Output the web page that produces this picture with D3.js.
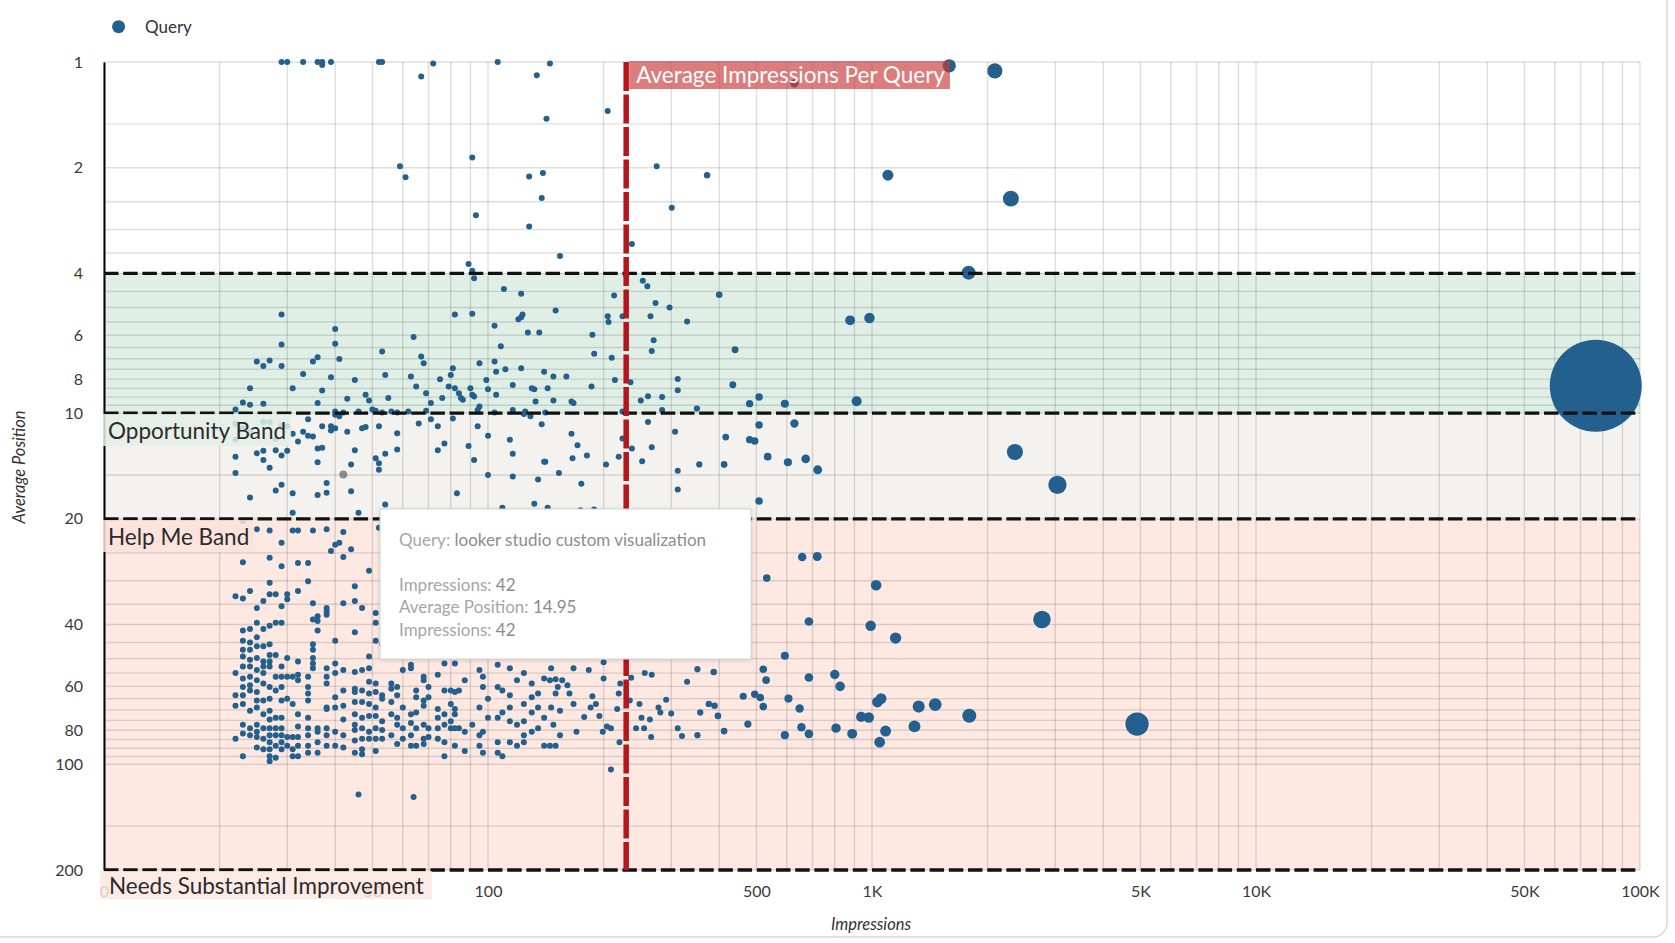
<!DOCTYPE html>
<html><head><meta charset="utf-8">
<script src="https://cdn.jsdelivr.net/npm/d3@7"></script>
<style>
html,body{margin:0;padding:0;background:#fff;}
svg{display:block;font-family:Lato,"Open Sans",sans-serif;}
</style></head><body>
<svg id="chart" width="1675" height="943"></svg>
<script>
// ---------- axis ticks ----------
const xTickValues = [10, 50, 100, 500, 1000, 5000, 10000, 50000, 100000];
const xTickLabels = ["0", "50", "100", "500", "1K", "5K", "10K", "50K", "100K"];
const yTickValues = [1, 2, 4, 6, 8, 10, 20, 40, 60, 80, 100, 200];
const bandLimits = [4, 10, 20, 200];
const bandNames = ["Opportunity Band", "Help Me Band", "Needs Substantial Improvement"];
const avgImpressionsPerQuery = 229;

// ---------- data: [impressions, average position] ----------
const topQueries = [
 [29,1],[30,1],[33,1],[36,1],[37,1],[37,1.02],[39,1],[52,1],[53,1],[72,1.01],[106,1],[145,1.01],
 [67,1.1],[134,1.09],[142,1.45],[205,1.38],[628,1.15],
 [91,1.87],[59,1.98],[61,2.13],[128,2.12],[139,2.07],[138,2.44],[93,2.73],[128,2.94],[154,3.57],[89,3.76],[91,3.93],
 [237,3.3],[275,1.98],[301,2.6],[372,2.1],
 [1589,1.025],[2089,1.06],[1100,2.1],[2300,2.45],[1785,3.98]
];
const opportunityQueries = [
 [92,4.13],[110,4.43],[122,4.57],[253,4.2],[260,4.35],[213,4.62],[400,4.6],[229,4.05],
 [29,5.24],[29,6.38],[29,7.34],[25,7.13],[26,7.34],[27,7.08],[24,8.49],[23,9.32],[24,9.46],[26,9.4],[31,8.49],[33,7.74],
 [35,7.13],[36,6.93],[36,9.36],[39,7.9],[40,5.76],[40,6.34],[41,7.01],[37,8.62],[43,9.1],[45,8.04],[48,8.87],[49,9.2],
 [54,7.79],[55,9.06],[53,6.67],[63,7.87],[64,6.07],[65,8.4],[67,6.9],[68,7.21],[69,8.77],[71,9.36],[75,8.01],[76,9.06],
 [79,8.4],[80,7.79],[81,7.45],[82,5.24],[82,8.49],[84,8.77],[85,9.06],[86,9.16],[90,8.49],[91,8.87],[92,8.97],[91,5.21],
 [95,7.21],[95,9.57],[99,8.04],[100,8.55],[104,5.64],[104,7.13],[105,7.62],[105,8.87],[108,6.45],[111,7.5],[116,8.31],
 [120,5.4],[122,5.33],[123,5.24],[122,7.45],[127,5.89],[130,8.49],[132,8.55],[133,9.26],[136,5.89],[140,7.62],[143,8.49],
 [148,7.87],[148,9.2],[150,5.1],[160,7.87],[165,9.26],[167,9.36],[187,5.98],[189,6.77],[186,8.4],
 [22,9.77],[40,9.9],[42,9.95],[46,9.9],[51,9.85],[53,9.95],[56,9.9],[58,9.95],[62,9.9],[69,9.85],[94,9.8],[104,9.95],
 [116,9.8],[125,9.9],[141,9.95],[50,9.77],
 [205,5.3],[206,5.5],[210,6.95],[214,8.05],[224,9.9],[235,8.16],[250,9.2],[224,5.3],[265,5.3],[270,6.2],[273,4.86],
 [267,6.65],[297,5.0],[330,5.48],[312,8.0],[312,8.6],[284,9.0],[261,8.95],[284,9.8],[350,9.7],[440,6.6],[434,8.3],
 [508,9.0],[593,9.4],[480,9.4],[877,5.44],[985,5.36],[912,9.25],[76700,8.36]
];
const helpMeQueries = [
 [22,10.7],[22,11.9],[23,11.05],[24,11.3],[26,10.6],[27,10.6],[28,11.85],[29,10.85],[30,10.9],[31,11.45],[22,13.3],
 [22,14.8],[24,17.4],[25,13.0],[26,12.8],[26,13.6],[27,14.3],[28,12.75],[28,16.6],[29,13.2],[29,16.0],[30,12.8],
 [31,16.9],[31,19.2],[32,12.05],[33,11.3],[34,10.4],[34,11.6],[35,11.65],[36,12.6],[36,13.8],[36,17.1],[37,12.55],
 [37,10.9],[38,15.8],[38,16.85],[39,10.9],[39,11.2],[40,11.05],[40,10.1],[41,10.2],[43,11.3],[44,14.0],[44,16.7],
 [45,12.75],[46,19.2],[47,11.05],[48,10.95],[51,13.45],[52,13.9],[52,14.5],[52,10.9],[54,13.05],[54,18.2],[58,11.4],
 [58,12.7],[66,10.7],[71,10.4],[74,10.9],[74,12.75],[77,12.2],[81,10.35],[83,16.9],[89,12.4],[92,13.6],[94,10.9],
 [100,11.6],[100,15.0],[114,11.9],[116,13.05],[116,15.15],[124,10.05],[129,10.2],[135,15.45],[138,10.75],[140,13.75],
 [141,13.75],[153,14.8],[165,11.45],[166,13.45],[171,12.35],[175,15.9],[181,13.2],[189,18.8],
 [109,18.6],[132,18.1],[143,18.6],[174,18.9],
 [203,14.0],[219,13.3],[224,11.8],[237,12.6],[252,13.7],[261,10.6],[267,12.5],[307,11.3],[312,14.6],[312,16.5],
 [355,14],[412,14],[416,11.7],[480,11.9],[495,12],[508,10.8],[535,13.3],[604,13.8],[628,10.7],[672,13.5],[722,14.5],
 [508,17.8],[2356,12.9],[3040,16]
];
const needsQueries = [
 [23,20.3],[25,21.4],[27,21.6],[29,23.4],[31,21.6],[32,21.6],[35,21.6],[38,21.4],[40,23.7],[41,23.4],[42,21.8],
 [39,24.7],[42,25.7],[44,24.4],[23,26.6],[27,25.8],[29,27.3],[32,26.7],[34,26.7],[49,28.1],[52,21.2],
 [658,25.7],[720,25.6],[532,29.5],
 [1025,30.9],[685,39.2],[992,40.3],[1152,43.7],[2771,38.7],[593,49.1],[521,53.6],[530,57.6],[685,56.6],[800,55.5],
 [826,60],[606,65],[648,69.4],[462,64],[495,63.2],[512,64.5],[521,68.5],[475,76.8],[593,82.6],[655,78.4],[685,81.9],
 [806,78.9],[888,81.9],[937,73.3],[981,73.6],[1033,66.5],[1056,65],[1085,80.4],[1047,86.5],[1290,78],[1323,68.5],
 [1461,67.6],[1792,72.7],[4900,76.8],
 [145,57.6],[150,57.3],[156,57.6],[152,60.2],[161,59.6],[150,62.9],[163,62.9],[154,70.4],[148,77.1],[154,82.6],
 [145,88.6],[150,88.6],[167,53.3],[167,67.3],[170,80.8],[183,53.9],[187,64],[191,67.3],[195,72.8],[178,73.3],
 [185,68.9],[200,57],[200,51.2],[199,80.8],[204,78],[209,78.9],[209,103.5],[217,69.6],[219,62.9],[221,58.9],
 [220,86.5],[234,65.8],[236,56.7],[243,78.9],[248,67.3],[251,73.7],[256,55],[255,78.9],[264,74.5],[266,83.6],
 [267,55.6],[278,68.9],[281,71.2],[291,65.5],[300,71.7],[312,78.9],[320,83],[330,58.2],[351,53.6],[351,82.6],
 [357,71.2],[376,67.3],[387,54.6],[389,68.1],[397,72.8],[412,80.4],
 [46,122],[64,124]
];
// low-impression queries: [impressions, [average positions]]
const needsColumns = [
 [22,[33.2,55.0,63.6,68.1,84.6]],
 [23,[33.7,41.6,44.5,47.2,49.3,52.7,57,60.2,63.6,67.3,77.1,81.7,94.8]],
 [24,[32.1,41.2,45,47.2,50.4,52.7,56.3,59.6,61.6,70.4,78.9,82.6]],
 [25,[35.9,39.5,43.5,46.1,49.8,53.9,57.6,62.2,65.8,68.9,77.1,80.8,83.6,89.6]],
 [26,[34.3,41.2,46.1,51,52.7,55,58.9,65.8,72,78.9,84.6,90.6]],
 [27,[30.4,32.8,40.3,45.5,48.8,51,52.7,60.2,65.1,70.4,74.5,78.9,82.6,86.5,90.6,94.8,98]],
 [28,[32.8,39.5,48.8,56.3,61.6,73.7,78.9,82.6,88.6,95.8]],
 [29,[35.5,39.5,52.7,56.3,60.2,65.8,73.7,78.9,82.6,86.5,90.6]],
 [30,[32.8,33.9,49.8,56.3,65.1,83.6,88.6]],
 [31,[56.3,67.3,83.6,90.6,94.8]],
 [32,[32.1,51,55.6,57.6,72,78,83.6,88.6,94.8]],
 [34,[30.1,56.3,60.2,62.9,65.8,73.7,78.9,82.6,88.6,92.7]],
 [35,[34.8,38.7,45.5,47.2,49.8,51.6,53.3]],
 [36,[37.9,39.1,41.6,78.9,80.8,86.5,92.7]],
 [38,[35.9,36.7,37.5,53.3,56.3,58.9,68.9,69.6,78.9,82.6,88.6]],
 [40,[44.5,51.6,55,64.4,68.9,80.8,88.6]],
 [42,[34.8,53.9,61.6,68.1,74.5,82.6,89.6]],
 [45,[31.1,34.3,42.1,54.6,60.9,62.2,66.5,72,77.1,79.9,85.5,92.7]],
 [47,[35.9,53.9,61.6,66.5,73.7,78.9,84.6,90.6,93.7]],
 [49,[49.3,53.3,58.2,62.9,67.3,72.8,80.8,84.6]],
 [51,[37.1,39.5,44.5,58.9,62.2,68.9,72.8,78.9,84.6,91.6]],
 [53,[45.5,63.6,65.1,75.4,79.9,84.6]],
 [56,[58.9,60.9,66.5,72,82.6]],
 [58,[60.2,63.6,73.7,77.1,87.5]],
 [60,[53.9,68.9,78.9,84.6]],
 [63,[52.1,53.3,72,76.3,82.6,88.6]],
 [65,[61.6,64.4,71.2,78.9,88.6]],
 [68,[56.3,57.6,65.8,68.1,77.1,84.6,87.5]],
 [70,[60.2,64.4,78.9,83.6]],
 [74,[55.6,69.6,73.7,78.9,84.6]],
 [77,[51.6,61.6,72,77.1,86.5,94.8]],
 [80,[61.6,67.3,75.4,78.9]],
 [82,[51.6,62.2,69.6,72,78.9,88.6]],
 [84,[61.6,78.9]],
 [87,[57.6,80.8,91.6]],
 [91,[77.1]],
 [95,[53.9,68.9,82.6,88.6]],
 [97,[56.3,60.2,80.8,92.7]],
 [100,[65.1,73.7]],
 [106,[52.1,60.2,73.7,86.5,92.7]],
 [109,[61.6,71.2,94.8]],
 [114,[53.3,63.6,68.9,75.4,86.5]],
 [119,[57.6,77.1,88.6]],
 [124,[55,67.3,75.4,82.6,86.5]],
 [130,[58.9,64.4,71.2,80.8]],
 [135,[62.9,68.9,78.9]],
 [140,[57,73.7,88.6]],
 [146,[53.3,68.9]]
];
const hoveredQuery = {query: "looker studio custom visualization", impressions: 42, position: 14.95};

// ---------- build ----------
const points = [...topQueries, ...opportunityQueries, ...helpMeQueries, ...needsQueries];
needsColumns.forEach(([imp, list]) => list.forEach(p => points.push([imp, p])));

const svg = d3.select("#chart");
const X0 = 104, X1 = 1640, Y0 = 62, Y1 = 870;
const x = d3.scaleLog().domain([10, 100000]).range([X0, X1]);
const y = d3.scaleLog().domain([1, 200]).range([Y0, Y1]);
const rScale = d3.scaleSqrt().domain([0, 76700]).range([0, 46]);
const radius = d => Math.max(3, rScale(d));
const pointColor = "#24608e";

// card border
svg.append("rect").attr("x", -20).attr("y", -20).attr("width", 1687).attr("height", 957)
  .attr("rx", 14).attr("fill", "none").attr("stroke", "#d8d8d8").attr("stroke-width", 1.5);

// bands
const bandColors = ["#e0efe5", "#f3f2ee", "#fde8e2"];
for (let i = 0; i < 3; i++) {
  svg.append("rect").attr("x", X0).attr("width", X1 - X0)
    .attr("y", y(bandLimits[i])).attr("height", y(bandLimits[i + 1]) - y(bandLimits[i]))
    .attr("fill", bandColors[i]);
}

// grid
const yGrid = [...d3.range(1, 10, 0.5), ...d3.range(10, 100, 5), ...d3.range(100, 201, 50)];
const grid = svg.append("g").attr("stroke", "#000").attr("stroke-opacity", 0.13).attr("stroke-width", 1.4);
grid.selectAll(".gx").data(x.ticks()).join("line")
  .attr("x1", d => x(d)).attr("x2", d => x(d)).attr("y1", Y0).attr("y2", Y1);
grid.selectAll(".gy").data(yGrid).join("line")
  .attr("x1", X0).attr("x2", X1).attr("y1", d => y(d)).attr("y2", d => y(d));

// axes
const yAxis = svg.append("g").attr("transform", `translate(${X0},0)`)
  .call(d3.axisLeft(y).tickValues(yTickValues).tickFormat(d3.format("d")).tickSize(0).tickSizeOuter(0).tickPadding(21));
yAxis.select(".domain").attr("stroke", "#000").attr("stroke-width", 2);
yAxis.selectAll("text").attr("font-size", 16).attr("fill", "#3a3a3a").attr("font-family", "Lato");

const xAxis = svg.append("g").attr("transform", `translate(0,${Y1})`)
  .call(d3.axisBottom(x).tickValues(xTickValues).tickFormat((d, i) => xTickLabels[i]).tickSize(0).tickPadding(16));
xAxis.select(".domain").remove();
xAxis.selectAll("text").attr("font-size", 16).attr("fill", "#3a3a3a").attr("font-family", "Lato");

// points
const sorted = points.slice().sort((a, b) => b[0] - a[0]);
svg.append("g").selectAll("circle").data(sorted).join("circle")
  .attr("cx", d => x(d[0])).attr("cy", d => y(d[1])).attr("r", d => radius(d[0]))
  .attr("fill", pointColor);
svg.append("circle").attr("cx", x(hoveredQuery.impressions)).attr("cy", y(hoveredQuery.position))
  .attr("r", 4).attr("fill", "#555").attr("fill-opacity", 0.65);

// band dashed lines
svg.append("g").selectAll("line").data(bandLimits).join("line")
  .attr("x1", X0).attr("x2", X1).attr("y1", d => y(d)).attr("y2", d => y(d))
  .attr("stroke", "#111").attr("stroke-width", 3.4).attr("stroke-dasharray", "14.5,4.7");

// average impressions line
svg.append("line").attr("x1", x(avgImpressionsPerQuery)).attr("x2", x(avgImpressionsPerQuery))
  .attr("y1", Y0).attr("y2", Y1).attr("stroke", "#b5161c").attr("stroke-width", 5.5)
  .attr("stroke-dasharray", "29,3.5");

// label helper
function boxLabel(text, tx, baseline, size, color, boxFill, boxOpacity, padL, padR, boxTop, boxBottom) {
  const g = svg.append("g");
  const rect = g.append("rect");
  const t = g.append("text").attr("x", tx).attr("y", baseline).attr("font-size", size)
    .attr("fill", color).attr("font-family", "Lato").text(text);
  const w = t.node().getComputedTextLength();
  rect.attr("x", tx - padL).attr("y", boxTop).attr("width", w + padL + padR).attr("height", boxBottom - boxTop)
    .attr("fill", boxFill).attr("fill-opacity", boxOpacity);
  return g;
}
const ax = x(avgImpressionsPerQuery);
boxLabel("Average Impressions Per Query", ax + 10, 83, 22.5, "#fff", "#c83a3a", 0.66, 7, 5, 61, 89);
boxLabel(bandNames[0], 108, 439, 22.5, "#2b2b2b", "#e3f0e7", 0.85, 5, 5, 414, 446);
boxLabel(bandNames[1], 108, 545, 22.5, "#2b2b2b", "#fbe2da", 0.85, 5, 5, 520, 552);
boxLabel(bandNames[2], 109, 894, 22.5, "#2b2b2b", "#fce6e0", 0.85, 9, 8, 871, 899);

// tooltip
const defs = svg.append("defs");
const f = defs.append("filter").attr("id", "sh").attr("x", "-10%").attr("y", "-10%").attr("width", "120%").attr("height", "130%");
f.append("feDropShadow").attr("dx", 0).attr("dy", 1).attr("stdDeviation", 2).attr("flood-color", "#000").attr("flood-opacity", 0.15);
const tip = svg.append("g");
tip.append("rect").attr("x", 380).attr("y", 509).attr("width", 371).attr("height", 150)
  .attr("fill", "#fff").attr("stroke", "#d2d2d2").attr("stroke-width", 1).attr("filter", "url(#sh)");
const tipLines = [
  ["Query: ", hoveredQuery.query, 546],
  ["Impressions: ", String(hoveredQuery.impressions), 591],
  ["Average Position: ", String(hoveredQuery.position), 613],
  ["Impressions: ", String(hoveredQuery.impressions), 636]
];
tipLines.forEach(([k, v, yy]) => {
  const t = tip.append("text").attr("x", 399).attr("y", yy).attr("font-size", 17).attr("font-family", "Lato");
  t.append("tspan").attr("fill", "#a6a6a6").text(k);
  t.append("tspan").attr("fill", "#8c8c8c").text(v);
});

// legend
svg.append("circle").attr("cx", 118.6).attr("cy", 26.7).attr("r", 6.5).attr("fill", pointColor);
svg.append("text").attr("x", 145).attr("y", 32.5).attr("font-size", 17).attr("fill", "#333").text("Query");

// axis titles
svg.append("text").attr("transform", "translate(25,467) rotate(-90)").attr("text-anchor", "middle")
  .attr("font-size", 16.5).attr("font-style", "italic").attr("fill", "#333").text("Average Position");
svg.append("text").attr("x", 871).attr("y", 930).attr("text-anchor", "middle")
  .attr("font-size", 16.5).attr("font-style", "italic").attr("fill", "#333").text("Impressions");
</script>
</body></html>
